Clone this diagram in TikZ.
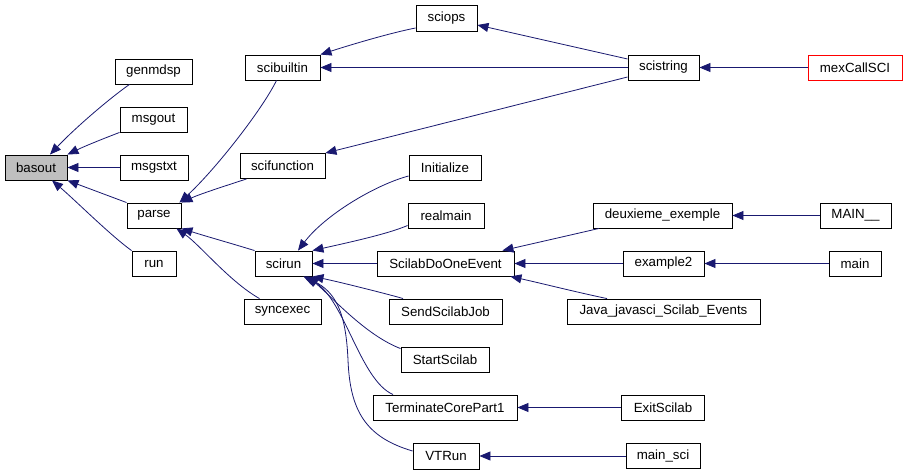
\documentclass[tikz,border=0pt]{standalone}
\usepackage{fontspec}
\setmainfont{Liberation Sans}
\usetikzlibrary{arrows.meta}
\definecolor{edgeblue}{HTML}{191970}
\definecolor{boxgray}{HTML}{BFBFBF}
\begin{document}
\begin{tikzpicture}[x=1pt,y=-1pt,
  box/.style={draw=black,line width=0.9pt,fill=white,minimum height=25pt,inner sep=0pt,
    font=\fontsize{13.3}{16}\selectfont},
  edge/.style={draw=edgeblue,line width=0.8pt,-{Triangle[length=11pt,width=9pt]}}]
\useasboundingbox[fill=white] (0,0) rectangle (906,471);
% nodes
\node[box,fill=boxgray,minimum width=62pt] (basout) at (36,167.5) {basout};
\node[box,minimum width=77pt] (genmdsp) at (153.5,71.5) {genmdsp};
\node[box,minimum width=67pt] (msgout) at (153.5,119.5) {msgout};
\node[box,minimum width=68pt] (msgstxt) at (154,167.5) {msgstxt};
\node[box,minimum width=54pt] (parse) at (154,215.5) {parse};
\node[box,minimum width=44pt] (run) at (154,263.5) {run};
\node[box,minimum width=75pt] (scibuiltin) at (282.5,67.5) {scibuiltin};
\node[box,minimum width=85pt] (scifunction) at (282.5,166) {scifunction};
\node[box,minimum width=57pt] (scirun) at (283.5,263.5) {scirun};
\node[box,minimum width=77pt] (syncexec) at (282.5,311.5) {syncexec};
\node[box,minimum width=61pt,minimum height=26pt] (sciops) at (446.5,18.5) {sciops};
\node[box,minimum width=72pt] (Initialize) at (445,167.5) {Initialize};
\node[box,minimum width=76pt] (realmain) at (446,215.5) {realmain};
\node[box,minimum width=137pt] (sdoe) at (445.5,263.5) {ScilabDoOneEvent};
\node[box,minimum width=113pt] (sendjob) at (445.5,311.5) {SendScilabJob};
\node[box,minimum width=88pt] (startscilab) at (445,359.5) {StartScilab};
\node[box,minimum width=144pt] (terminate) at (445,407.5) {TerminateCorePart1};
\node[box,minimum width=66pt,minimum height=26pt] (vtrun) at (446,456) {VTRun};
\node[box,minimum width=71pt] (scistring) at (663.5,67.5) {scistring};
\node[box,draw=red,minimum width=94pt] (mexcallsci) at (855,67.5) {mexCallSCI};
\node[box,minimum width=139pt] (deuxieme) at (662.5,215.5) {deuxieme\_exemple};
\node[box,minimum width=71pt] (MAIN) at (855.5,215.5) {MAIN\_\_};
\node[box,minimum width=81pt] (example2) at (663.5,263.5) {example2};
\node[box,minimum width=52pt] (main) at (855,263.5) {main};
\node[box,minimum width=193pt] (java) at (663.5,311.5) {Java\_javasci\_Scilab\_Events};
\node[box,minimum width=83pt] (exitscilab) at (663,407.5) {ExitScilab};
\node[box,minimum width=74pt] (mainsci) at (663,456) {main\_sci};
% edges to basout
\draw[edge] ([xshift=-24pt]genmdsp.south) .. controls (110,98) and (75,128) .. ([xshift=14pt]basout.north);
\draw[edge] (msgout.south west) .. controls (105,138) and (85,146) .. (basout.north east);
\draw[edge] (msgstxt.west) -- (basout.east);
\draw[edge] (parse.north west) -- (basout.south east);
\draw[edge] (run.north west) .. controls (110,235) and (75,200) .. ([xshift=16pt]basout.south);
% edges to parse
\draw[edge] ([xshift=-6pt]scibuiltin.south) .. controls (262,110) and (215,170) .. ([xshift=-2pt]parse.north east);
\draw[edge] ([xshift=-36pt]scifunction.south) .. controls (225,186) and (200,194) .. (parse.north east);
\draw[edge] (scirun.north west) .. controls (230,243) and (205,236) .. (parse.south east);
\draw[edge] ([xshift=-23pt]syncexec.north) .. controls (230,282) and (200,245) .. ([xshift=-5pt]parse.south east);
% edges to scibuiltin / sciops / scifunction
\draw[edge] ([yshift=-9.5pt]sciops.west) .. controls (390,33) and (350,45) .. (scibuiltin.north east);
\draw[edge] (scistring.west) -- (scibuiltin.east);
\draw[edge] ([yshift=8.5pt]scistring.west) -- ([yshift=-6.5pt]sciops.east);
\draw[edge] ([yshift=-9.5pt]scistring.west) -- (scifunction.north east);
\draw[edge] (mexcallsci.west) -- (scistring.east);
% edges to scirun
\draw[edge] ([yshift=-8.5pt]Initialize.west) .. controls (375,185) and (325,215) .. ([xshift=14.5pt]scirun.north);
\draw[edge] ([yshift=-10pt]realmain.west) .. controls (390,233) and (360,240) .. (scirun.north east);
\draw[edge] (sdoe.west) -- (scirun.east);
\draw[edge] ([xshift=-42.5pt]sendjob.north) .. controls (395,296) and (340,282) .. (scirun.south east);
\draw[edge] ([yshift=-2pt]startscilab.north west) .. controls (365,335) and (330,295) .. ([xshift=-5pt]scirun.south east);
\draw[edge] ([xshift=-52pt]terminate.north) .. controls (360,380) and (345,300) .. ([xshift=-7pt]scirun.south east);
\draw[edge] ([yshift=5pt]vtrun.west) .. controls (365,437) and (350,410) .. (348,360) .. controls (346,315) and (337,292) .. ([xshift=-9pt]scirun.south east);
% edges to ScilabDoOneEvent
\draw[edge] ([xshift=-63.5pt]deuxieme.south) .. controls (575,234) and (540,242) .. ([xshift=-12pt]sdoe.north east);
\draw[edge] (example2.west) -- (sdoe.east);
\draw[edge] ([xshift=-56.5pt]java.north) .. controls (580,293) and (540,283) .. ([xshift=-4pt]sdoe.south east);
% rightmost
\draw[edge] (MAIN.west) -- (deuxieme.east);
\draw[edge] (main.west) -- (example2.east);
\draw[edge] (exitscilab.west) -- (terminate.east);
\draw[edge] (mainsci.west) -- (vtrun.east);
\end{tikzpicture}
\end{document}
